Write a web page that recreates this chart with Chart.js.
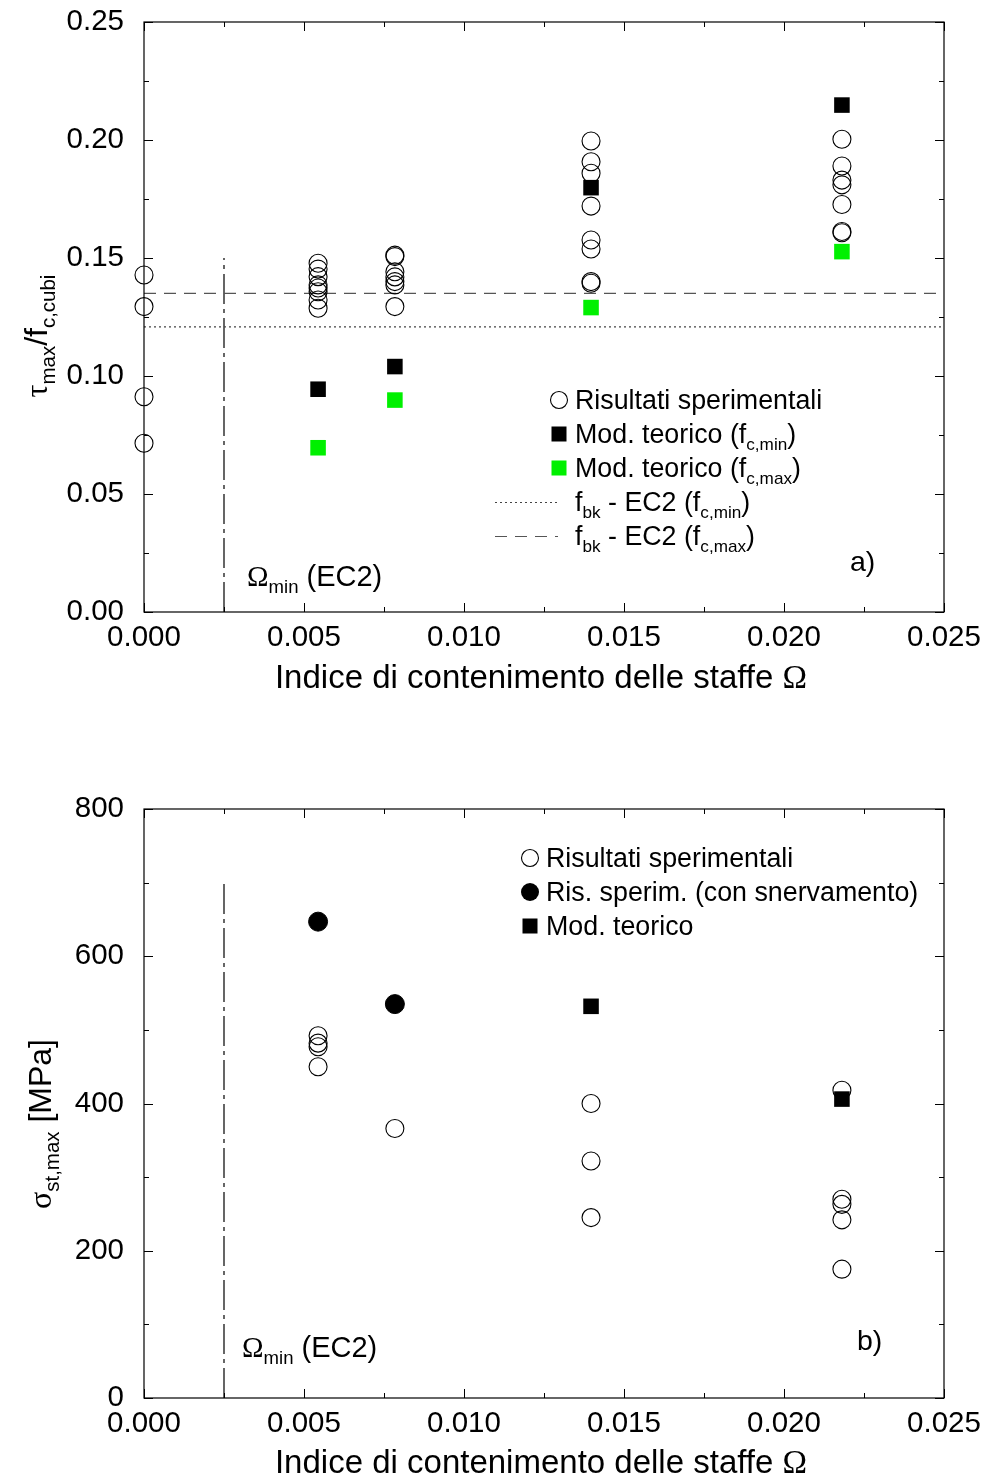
<!DOCTYPE html>
<html><head><meta charset="utf-8">
<script src="https://cdn.jsdelivr.net/npm/chart.js@4/dist/chart.umd.min.js"></script>
<style>
html,body{margin:0;padding:0;background:#fff;}
#wrap{position:relative;width:986px;height:1479px;overflow:hidden;font-family:"Liberation Sans",Arial,sans-serif;color:#000;}
canvas{position:absolute;left:0;}
.t{position:absolute;white-space:nowrap;line-height:1;transform:translateY(-50%);}
.c{transform:translate(-50%,-50%);}
.r{transform:translate(-50%,-50%) rotate(-90deg);}
.s{font-size:0.64em;position:relative;top:0.4em;}
.g{font-family:"Liberation Serif","DejaVu Serif",serif;}
svg{position:absolute;left:0;top:0;}
</style></head>
<body><div id="wrap">
<canvas id="ca" width="1040" height="750" style="top:-50px"></canvas>
<canvas id="cb" width="1040" height="829" style="top:650px"></canvas>
<svg width="986" height="1479" id="ov"></svg>
</div>
<script>
// ---------------- DATA ----------------
const xTickValues = [0, 0.005, 0.010, 0.015, 0.020, 0.025];
const yTickValuesA = [0, 0.05, 0.10, 0.15, 0.20, 0.25];
const yTickValuesB = [0, 200, 400, 600, 800];

const omegaMinEC2 = 0.0025;

// chart a) experimental results (tau_max / f_c,cubi)
const expA_omega = [0,0,0,0,
  0.00544,0.00544,0.00544,0.00544,0.00544,0.00544,0.00544,0.00544,
  0.00784,0.00784,0.00784,0.00784,0.00784,0.00784,0.00784,
  0.01397,0.01397,0.01397,0.01397,0.01397,0.01397,0.01397,0.01397,
  0.02181,0.02181,0.02181,0.02181,0.02181,0.02181,0.02181];
const expA_tau = [0.1428,0.1294,0.0912,0.0715,
  0.1478,0.1453,0.1421,0.1386,0.1373,0.1357,0.1322,0.1287,
  0.1512,0.1506,0.1442,0.1420,0.1400,0.1386,0.1294,
  0.1996,0.1908,0.1859,0.1720,0.1576,0.1538,0.1400,0.1393,
  0.2003,0.1890,0.1830,0.1810,0.1727,0.1612,0.1607];
// theoretical model
const modA_omega = [0.00544, 0.00784, 0.01397, 0.02181];
const modA_fcmin = [0.0944, 0.1040, 0.1798, 0.2148];
const modA_fcmax = [0.0696, 0.0898, 0.1290, 0.1527];
// f_bk EC2 levels
const fbkEC2_fcmin = 0.1208;
const fbkEC2_fcmax = 0.1350;
const omegaLineTopA = 0.15;

// chart b) sigma_st,max [MPa]
const expB_omega = [0.00544,0.00544,0.00544,0.00544, 0.00784,
  0.01397,0.01397,0.01397, 0.02181,0.02181,0.02181,0.02181,0.02181];
const expB_sigma = [492,482,477,450, 366, 400,322,245, 418,270,263,242,175];
const yieldB_omega = [0.00544, 0.00784];
const yieldB_sigma = [647, 535];
const modB_omega = [0.01397, 0.02181];
const modB_sigma = [532, 406];
const omegaLineTopB = 700;

// ---------------- HELPERS ----------------
const pts = (xs, ys) => xs.map((x, i) => ({x, y: ys[i]}));
const FONT = '"Liberation Sans", Arial, sans-serif';
const GREEN = '#00f000';

const frameTicks = {
  id: 'frameTicks',
  afterDatasetsDraw(chart) {
    const {ctx, chartArea: a, scales: {x, y}} = chart;
    ctx.save();
    ctx.strokeStyle = '#000';
    ctx.lineWidth = 1.2;
    ctx.strokeRect(a.left, a.top, a.right - a.left, a.bottom - a.top);
    ctx.lineWidth = 1;
    const xt = x.ticks.map(t => t.value), yt = y.ticks.map(t => t.value);
    const xs = [], ys = [];
    xt.forEach((v, i) => { xs.push([v, 9]); if (i < xt.length - 1) xs.push([(v + xt[i + 1]) / 2, 5]); });
    yt.forEach((v, i) => { ys.push([v, 9]); if (i < yt.length - 1) ys.push([(v + yt[i + 1]) / 2, 5]); });
    ctx.beginPath();
    xs.forEach(([v, L]) => {
      const p = Math.round(x.getPixelForValue(v)) + 0.5;
      ctx.moveTo(p, a.bottom); ctx.lineTo(p, a.bottom - L);
      ctx.moveTo(p, a.top); ctx.lineTo(p, a.top + L);
    });
    ys.forEach(([v, L]) => {
      const p = Math.round(y.getPixelForValue(v)) + 0.5;
      ctx.moveTo(a.left, p); ctx.lineTo(a.left + L, p);
      ctx.moveTo(a.right, p); ctx.lineTo(a.right - L, p);
    });
    ctx.stroke();
    ctx.restore();
  }
};

function baseOptions(yTicks, yDigits, padTop, xHeight, yMin, yMax) {
  return {
    responsive: false, animation: false, events: [],
    layout: {padding: {left: 0, right: 96, top: padTop, bottom: 0}},
    plugins: {legend: {display: false}, tooltip: {enabled: false}},
    scales: {
      x: {
        type: 'linear', min: 0, max: 0.025,
        afterBuildTicks: s => { s.ticks = xTickValues.map(v => ({value: v})); },
        afterFit: s => { s.height = xHeight; },
        grid: {display: false, drawTicks: false}, border: {display: false},
        ticks: {padding: 8, color: '#000', font: {family: FONT, size: 29.5},
          maxRotation: 0, autoSkip: false, callback: v => Number(v).toFixed(3)}
      },
      y: {
        type: 'linear', min: yMin, max: yMax,
        afterBuildTicks: s => { s.ticks = yTicks.map(v => ({value: v})); },
        afterFit: s => { s.width = 144; },
        grid: {display: false, drawTicks: false}, border: {display: false},
        ticks: {padding: 20, color: '#000', font: {family: FONT, size: 29.5},
          autoSkip: false, callback: v => Number(v).toFixed(yDigits)}
      }
    }
  };
}

const openCircle = {pointStyle: 'circle', pointRadius: 9, pointBorderWidth: 1.1,
  pointBorderColor: '#000', pointBackgroundColor: 'rgba(0,0,0,0)', showLine: false, clip: false};
const square = (c) => ({pointStyle: 'rect', pointRadius: 11, pointBorderWidth: 0,
  pointBorderColor: c, pointBackgroundColor: c, showLine: false, clip: false});
const hline = (dash, color) => ({showLine: true, pointRadius: 0, borderWidth: 1.2,
  borderColor: color, borderDash: dash, fill: false, clip: false});

// ---------------- CHART a ----------------
new Chart(document.getElementById('ca'), {
  type: 'scatter',
  data: {datasets: [
    Object.assign({label: 'Mod. teorico (fc,min)', data: pts(modA_omega, modA_fcmin), order: 0}, square('#000')),
    Object.assign({label: 'Mod. teorico (fc,max)', data: pts(modA_omega, modA_fcmax), order: 0}, square(GREEN)),
    Object.assign({label: 'Risultati sperimentali', data: pts(expA_omega, expA_tau), order: 1}, openCircle),
    Object.assign({label: 'fbk - EC2 (fc,min)', data: [{x: 0, y: fbkEC2_fcmin}, {x: 0.025, y: fbkEC2_fcmin}], order: 2}, hline([2, 3], '#444')),
    Object.assign({label: 'fbk - EC2 (fc,max)', data: [{x: 0, y: fbkEC2_fcmax}, {x: 0.025, y: fbkEC2_fcmax}], order: 2}, hline([12, 8], '#555')),
    Object.assign({label: 'Omega min', data: [{x: omegaMinEC2, y: 0}, {x: omegaMinEC2, y: omegaLineTopA}], order: 2}, hline([30, 5, 4, 5], '#000'))
  ]},
  options: baseOptions(yTickValuesA, 2, 72, 88, 0, 0.25),
  plugins: [frameTicks]
});

// ---------------- CHART b ----------------
new Chart(document.getElementById('cb'), {
  type: 'scatter',
  data: {datasets: [
    Object.assign({label: 'Mod. teorico', data: pts(modB_omega, modB_sigma), order: 0}, square('#000')),
    Object.assign({label: 'Ris. sperim. (con snervamento)', data: pts(yieldB_omega, yieldB_sigma), order: 1},
      {pointStyle: 'circle', pointRadius: 9.5, pointBorderWidth: 1, pointBorderColor: '#000', pointBackgroundColor: '#000', showLine: false, clip: false}),
    Object.assign({label: 'Risultati sperimentali', data: pts(expB_omega, expB_sigma), order: 1}, openCircle),
    Object.assign({label: 'Omega min', data: [{x: omegaMinEC2, y: 0}, {x: omegaMinEC2, y: omegaLineTopB}], order: 2}, hline([30, 5, 4, 5], '#000'))
  ]},
  options: baseOptions(yTickValuesB, 0, 159, 81, 0, 800),
  plugins: [frameTicks]
});

// ---------------- TEXT OVERLAYS ----------------
const wrap = document.getElementById('wrap');
function txt(html, x, y, size, cls) {
  const d = document.createElement('div');
  d.className = 't' + (cls ? ' ' + cls : '');
  d.style.left = x + 'px'; d.style.top = y + 'px'; d.style.fontSize = size + 'px';
  d.innerHTML = html;
  wrap.appendChild(d);
}
const S = t => '<span class="s">' + t + '</span>';
const G = t => '<span class="g">' + t + '</span>';

// axis titles
txt('Indice di contenimento delle staffe ' + G('Ω'), 541, 677, 33, 'c');
txt('Indice di contenimento delle staffe ' + G('Ω'), 541, 1462, 33, 'c');
txt(G('τ') + S('max') + '/f' + S('c,cubi'), 36, 336, 32, 'r');
txt(G('σ') + S('st,max') + ' [MPa]', 40, 1124, 32, 'r');

// annotations
txt(G('Ω') + S('min') + ' (EC2)', 247, 576, 29);
txt(G('Ω') + S('min') + ' (EC2)', 242, 1347, 29);
txt('a)', 850, 561, 28.5);
txt('b)', 857, 1340, 28.5);

// legend a
const legA = [
  ['Risultati sperimentali', 400],
  ['Mod. teorico (f' + S('c,min') + ')', 434],
  ['Mod. teorico (f' + S('c,max') + ')', 468],
  ['f' + S('bk') + ' - EC2 (f' + S('c,min') + ')', 502],
  ['f' + S('bk') + ' - EC2 (f' + S('c,max') + ')', 536]
];
legA.forEach(([h, y]) => txt(h, 575, y, 26.8));
// legend b
const legB = [
  ['Risultati sperimentali', 858],
  ['Ris. sperim. (con snervamento)', 892],
  ['Mod. teorico', 926]
];
legB.forEach(([h, y]) => txt(h, 546, y, 26.8));

// legend symbols
const ov = document.getElementById('ov');
ov.innerHTML =
  '<circle cx="559" cy="400" r="8.5" fill="none" stroke="#000" stroke-width="1.1"/>' +
  '<rect x="551.5" y="426.5" width="15" height="15" fill="#000"/>' +
  '<rect x="551.5" y="460.5" width="15" height="15" fill="' + GREEN + '"/>' +
  '<line x1="495" y1="502.5" x2="558" y2="502.5" stroke="#444" stroke-width="1.2" stroke-dasharray="2 3"/>' +
  '<line x1="495" y1="536.5" x2="558" y2="536.5" stroke="#555" stroke-width="1.2" stroke-dasharray="12 8"/>' +
  '<circle cx="530" cy="858" r="8.5" fill="none" stroke="#000" stroke-width="1.1"/>' +
  '<circle cx="530" cy="892" r="9" fill="#000"/>' +
  '<rect x="522.5" y="918.5" width="15" height="15" fill="#000"/>';
</script>
</body></html>
